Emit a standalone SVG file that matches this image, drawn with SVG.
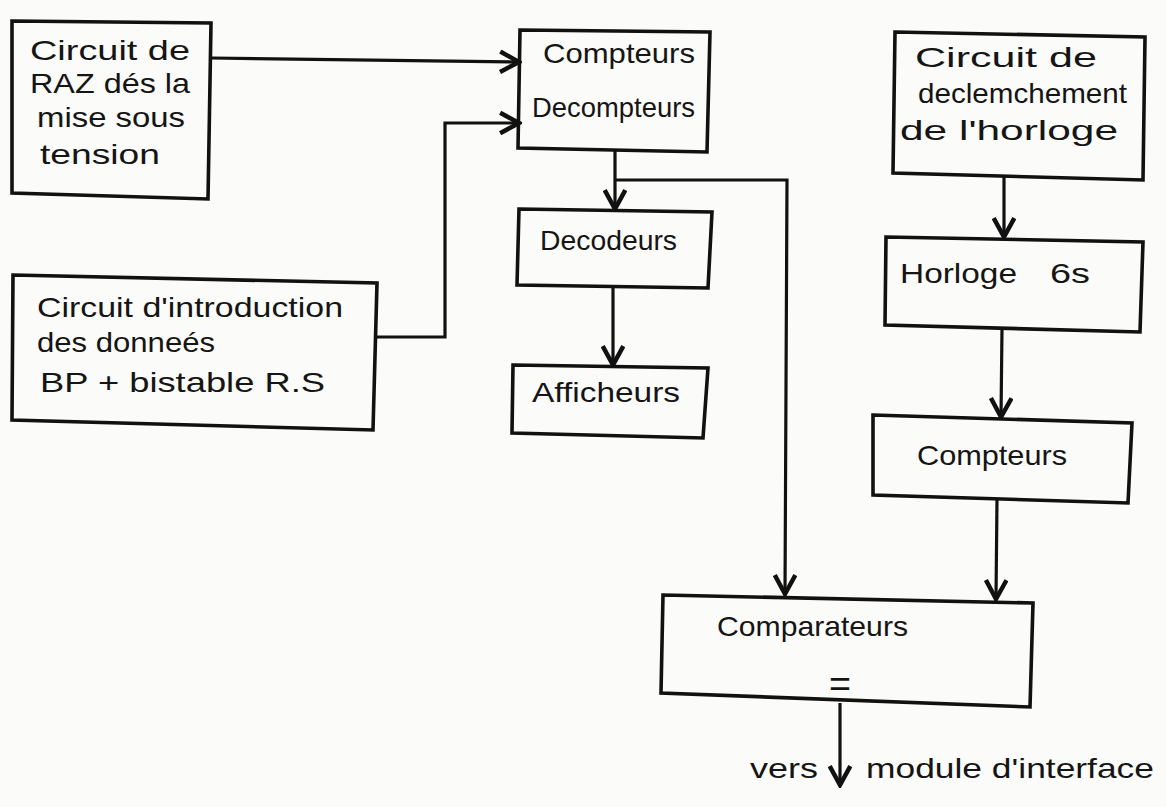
<svg xmlns="http://www.w3.org/2000/svg" width="1166" height="807" viewBox="0 0 1166 807">
<defs>
<marker id="arr" markerUnits="userSpaceOnUse" markerWidth="24" markerHeight="24" refX="12" refY="7" orient="auto" viewBox="0 0 14 14">
<path d="M1,1 L12,7 L1,13" fill="none" stroke="#111" stroke-width="2.6" stroke-linejoin="miter"/>
</marker>
<style>
.box{fill:none;stroke:#111;stroke-width:3.6;stroke-linejoin:miter}
.conn{fill:none;stroke:#111;stroke-width:3.2;marker-end:url(#arr)}
.t{font-family:"Liberation Sans","DejaVu Sans",sans-serif;font-size:28px;fill:#151515}
.eq{font-family:"Liberation Sans","DejaVu Sans",sans-serif;font-size:36px;fill:#151515}
</style>
</defs>
<rect x="0" y="0" width="1166" height="807" fill="#fbfbf9"/>

<g id="connectors">
<polyline class="conn" points="211,58 519,62"/>
<polyline class="conn" points="375,337 445,337 445,123 519,123"/>
<polyline class="conn" points="615,150 615,209"/>
<polyline class="conn" points="615,180 787,180 785,594"/>
<polyline class="conn" points="613,287 613,365"/>
<polyline class="conn" points="1004,177 1004,237"/>
<polyline class="conn" points="1002,329 1001,417"/>
<polyline class="conn" points="997,499 996,599"/>
<polyline class="conn" points="840,703 840,785"/>
</g>

<g id="raz">
<polygon class="box" points="12,21 211,23 208,199 12,193"/>
<text class="t" x="30" y="60" textLength="160" lengthAdjust="spacingAndGlyphs">Circuit de</text>
<text class="t" x="30" y="93" textLength="160" lengthAdjust="spacingAndGlyphs">RAZ dés la</text>
<text class="t" x="37" y="127" textLength="148" lengthAdjust="spacingAndGlyphs">mise sous</text>
<text class="t" x="40" y="164" textLength="120" lengthAdjust="spacingAndGlyphs">tension</text>
</g>

<g id="intro">
<polygon class="box" points="13,275 377,283 373,430 12,420"/>
<text class="t" x="37" y="317" textLength="306" lengthAdjust="spacingAndGlyphs">Circuit d'introduction</text>
<text class="t" x="37" y="352" textLength="178" lengthAdjust="spacingAndGlyphs">des donneés</text>
<text class="t" x="40" y="392" textLength="285" lengthAdjust="spacingAndGlyphs">BP + bistable R.S</text>
</g>

<g id="compteurs-decompteurs">
<polygon class="box" points="520,30 710,32 707,152 518,148"/>
<text class="t" x="543" y="63" textLength="152" lengthAdjust="spacingAndGlyphs">Compteurs</text>
<text class="t" x="532" y="117" textLength="163" lengthAdjust="spacingAndGlyphs">Decompteurs</text>
</g>

<g id="decodeurs">
<polygon class="box" points="519,209 712,212 708,288 517,285"/>
<text class="t" x="540" y="250" textLength="137" lengthAdjust="spacingAndGlyphs">Decodeurs</text>
</g>

<g id="afficheurs">
<polygon class="box" points="513,365 708,368 703,438 512,433"/>
<text class="t" x="532" y="402" textLength="148" lengthAdjust="spacingAndGlyphs">Afficheurs</text>
</g>

<g id="declenchement">
<polygon class="box" points="895,32 1145,37 1143,180 893,173"/>
<text class="t" x="915" y="67" textLength="182" lengthAdjust="spacingAndGlyphs">Circuit  de</text>
<text class="t" x="918" y="103" textLength="209" lengthAdjust="spacingAndGlyphs">declemchement</text>
<text class="t" x="900" y="140" textLength="218" lengthAdjust="spacingAndGlyphs">de  l'horloge</text>
</g>

<g id="horloge">
<polygon class="box" points="886,237 1143,242 1140,332 885,325"/>
<text class="t" x="900" y="283" textLength="117" lengthAdjust="spacingAndGlyphs">Horloge</text>
<text class="t" x="1050" y="283" textLength="40" lengthAdjust="spacingAndGlyphs">6s</text>
</g>

<g id="compteurs">
<polygon class="box" points="873,415 1132,423 1128,503 873,495"/>
<text class="t" x="917" y="465" textLength="150" lengthAdjust="spacingAndGlyphs">Compteurs</text>
</g>

<g id="comparateurs">
<polygon class="box" points="663,595 1033,603 1030,707 661,693"/>
<text class="t" x="717" y="636" textLength="191" lengthAdjust="spacingAndGlyphs">Comparateurs</text>
<text class="eq" x="829" y="696" textLength="22" lengthAdjust="spacingAndGlyphs">=</text>
</g>

<g id="sortie">
<text class="t" x="750" y="778" textLength="68" lengthAdjust="spacingAndGlyphs">vers</text>
<text class="t" x="866" y="778" textLength="288" lengthAdjust="spacingAndGlyphs">module d'interface</text>
</g>
</svg>
